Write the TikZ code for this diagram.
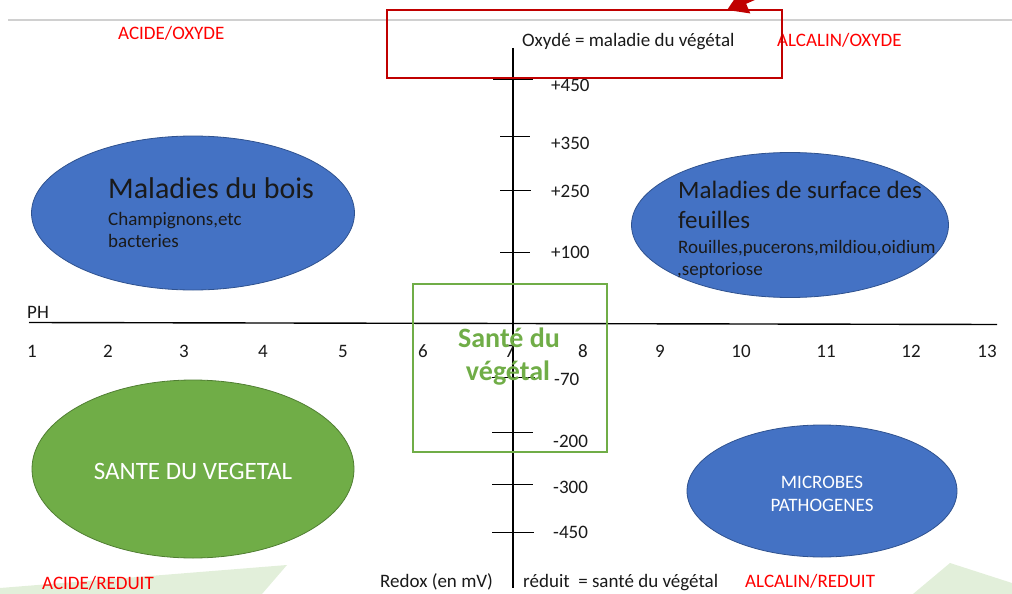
\documentclass[tikz,border=0pt]{standalone}
\usepackage{fontspec}
\setmainfont{Carlito}
\usetikzlibrary{arrows.meta,shapes.geometric}
\definecolor{axred}{HTML}{FF0000}
\definecolor{boxred}{HTML}{C00000}
\definecolor{blueFill}{HTML}{4472C4}
\definecolor{blueLine}{HTML}{2F528F}
\definecolor{greenFill}{HTML}{70AD47}
\definecolor{greenLine}{HTML}{507E32}
\definecolor{paleGreen}{HTML}{E2EFDA}
\definecolor{txt}{HTML}{1A1A1A}
\definecolor{topgray}{HTML}{D0D0D0}
\begin{document}
\begin{tikzpicture}[x=1pt,y=-1pt,
  lbl/.style={inner sep=0pt,text=txt,font=\fontsize{19}{23}\selectfont},
  lw/.style={lbl,anchor=base west},
  lc/.style={lbl,anchor=base},
  redlbl/.style={lw,text=axred},
  bigtxt/.style={lw,font=\fontsize{#1}{#1}\selectfont},
  blob/.style={ellipse,draw=blueLine,fill=blueFill,line width=0.8pt,inner sep=0pt},
  gblob/.style={ellipse,draw=greenLine,fill=greenFill,line width=0.8pt,inner sep=0pt},
  whitelbl/.style={lc,text=white},
  axis/.style={line width=1.4pt,black},
  tick/.style={line width=1pt,black}]
\useasboundingbox (0,0) rectangle (1012,594);
% pale green wedges
\fill[paleGreen] (0,588) -- (287,565) -- (262,594) -- (0,594) -- cycle;
\fill[paleGreen] (913,594) -- (950,563) -- (1012,583) -- (1012,594) -- cycle;
% top gray rule
\draw[topgray,line width=1.2pt] (8,20) -- (1012,20);
% ellipses
\node[blob,minimum width=323,minimum height=154] (bois) at (193,213) {};
\node[blob,minimum width=317,minimum height=145] (surface) at (790,225) {};
\node[gblob,minimum width=322,minimum height=178] (sante) at (193,469) {};
\node[blob,minimum width=270,minimum height=132] (microbes) at (822,491) {};
% axes
\coordinate (vtop) at (513,48);
\coordinate (vbot) at (513,588);
\coordinate (hleft) at (29,322.5);
\coordinate (hright) at (997,324.5);
\draw[axis] (vtop) -- (vbot);
\draw[axis] (hleft) -- (hright);
% ticks
\foreach \y/\a/\b in {80/493/533,136/500/530,190/500/531,252/500/530,377/492/535,432/492/533,484/492/533,532/492/534}
  \draw[tick] (\a,\y) -- (\b,\y);
% tick labels
\node[lw] (p450) at (551,92) {+450};
\node[lw] (p350) at (551,149) {+350};
\node[lw] (p250) at (551,197) {+250};
\node[lw] (p100) at (551,258) {+100};
\node[lw] (m70) at (554,385) {-70};
\node[lw] (m200) at (553,447) {-200};
\node[lw] (m300) at (553,493) {-300};
\node[lw] (m450) at (553,538) {-450};
% pH labels
\node[lw] (ph) at (27,318) {PH};
\foreach \x/\n in {32/1,108/2,184/3,263/4,343/5,423/6,510/7,583/8,660/9,741/10,826/11,911/12,987/13}
  \node[lc] (ph\n) at (\x,357) {\n};
% corner labels
\node[redlbl] (acox) at (118,40) {ACIDE/OXYDE};
\node[redlbl] (alox) at (777,47) {ALCALIN/OXYDE};
\node[redlbl] (acred) at (42,589) {ACIDE/REDUIT};
\node[redlbl] (alred) at (745,587) {ALCALIN/REDUIT};
% axis titles
\node[lw] (oxy) at (522,47) {Oxydé = maladie du végétal};
\node[lw] (redox) at (380,587) {Redox (en mV)};
\node[lw] (reduit) at (523,587) {réduit\ \ = santé du végétal};
% red box and arrow
\node[draw=boxred,line width=2pt,minimum width=395,minimum height=68,inner sep=0pt] (oxybox) at (584.5,44) {};
\coordinate (arrowTail) at (800,-22);
\coordinate (arrowTip) at (727,10);
\draw[boxred,line width=4pt,-{Triangle[length=20pt,width=24pt]}] (arrowTail) -- (arrowTip);
% green box
\node[draw=greenFill,line width=2pt,minimum width=194,minimum height=168,inner sep=0pt] (santebox) at (510,368) {};
\node[lc,text=greenFill,font=\fontsize{28}{30}\selectfont\bfseries] (sante1) at (509,347) {Santé du};
\node[lc,text=greenFill,font=\fontsize{28}{30}\selectfont\bfseries] (sante2) at (508,380) {végétal};
% ellipse texts
\node[bigtxt=30] (boist) at (108,198) {Maladies du bois};
\node[lw] (bois2) at (108,225) {Champignons,etc};
\node[lw] (bois3) at (108,247) {bacteries};
\node[bigtxt=25] (surf1) at (678,198) {Maladies de surface des};
\node[bigtxt=25] (surf2) at (678,228) {feuilles};
\node[lw] (surf3) at (678,253) {Rouilles,pucerons,mildiou,oidium};
\node[lw] (surf4) at (677,275) {,septoriose};
\node[whitelbl,font=\fontsize{25}{30}\selectfont] (santet) at (193,479) {SANTE DU VEGETAL};
\node[whitelbl] (mic1) at (822,488) {MICROBES};
\node[whitelbl] (mic2) at (822,511) {PATHOGENES};
\end{tikzpicture}
\end{document}
